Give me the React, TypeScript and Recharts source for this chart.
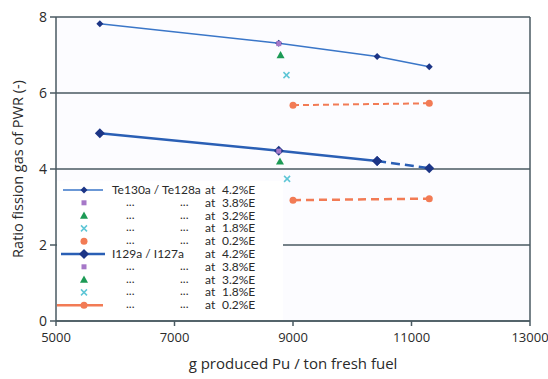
import React from 'react';
import { LineChart, Line, XAxis, YAxis, CartesianGrid, ReferenceLine } from 'recharts';

const FONT = '"Open Sans", "DejaVu Sans", sans-serif';
const LEG_FONT = 'Lato, "Open Sans", sans-serif';
const C = {
  AXIS: '#4a5a62',
  TEXT: '#2a2a2a',
  TE: '#3a76c8',
  I: '#2a5fb5',
  NAVY: '#1c3586',
  PURPLE: '#a678c8',
  GREEN: '#1c9a55',
  CYAN: '#5ec6d6',
  ORANGE: '#f27b55',
};

const X_TICKS = [5000, 7000, 9000, 11000, 13000];
const Y_TICKS = [0, 2, 4, 6, 8];

// Te130a / Te128a
const TE_42 = [{ x: 5740, y: 7.82 }, { x: 8760, y: 7.31 }, { x: 10420, y: 6.96 }, { x: 11300, y: 6.69 }];
const TE_38 = [{ x: 8760, y: 7.3 }];
const TE_32 = [{ x: 8790, y: 7.0 }];
const TE_18 = [{ x: 8890, y: 6.47 }];
const TE_02 = [{ x: 9000, y: 5.68 }, { x: 11300, y: 5.73 }];

// I129a / I127a
const I_42_SOLID = [{ x: 5740, y: 4.94 }, { x: 8760, y: 4.48 }, { x: 10420, y: 4.21 }];
const I_42_DASH = [{ x: 10420, y: 4.21 }, { x: 11300, y: 4.02 }];
const I_38 = [{ x: 8760, y: 4.47 }];
const I_32 = [{ x: 8780, y: 4.2 }];
const I_18 = [{ x: 8900, y: 3.74 }];
const I_02 = [{ x: 9000, y: 3.18 }, { x: 11300, y: 3.22 }];

const LEGEND_ROWS = [
  { icon: 'teLine', name: 'Te130a / Te128a', pct: '4.2%E' },
  { icon: 'square', name: '', pct: '3.8%E' },
  { icon: 'triangle', name: '', pct: '3.2%E' },
  { icon: 'cross', name: '', pct: '1.8%E' },
  { icon: 'circle', name: '', pct: '0.2%E' },
  { icon: 'iLine', name: 'I129a / I127a', pct: '4.2%E' },
  { icon: 'square', name: '', pct: '3.8%E' },
  { icon: 'triangle', name: '', pct: '3.2%E' },
  { icon: 'cross', name: '', pct: '1.8%E' },
  { icon: 'orangeLine', name: '', pct: '0.2%E' },
];

const diamond = (r: number, color: string) => (p: any) => {
  const { cx, cy, index } = p;
  if (cx == null || cy == null) return <g key={index} />;
  return <polygon key={index} points={`${cx},${cy - r} ${cx + r},${cy} ${cx},${cy + r} ${cx - r},${cy}`} fill={color} />;
};
const square = (s: number, color: string) => (p: any) => (
  <rect key={p.index} x={p.cx - s / 2} y={p.cy - s / 2} width={s} height={s} fill={color} />
);
const triangle = (r: number, color: string) => (p: any) => (
  <polygon key={p.index} points={`${p.cx},${p.cy - r} ${p.cx + r},${p.cy + r * 0.8} ${p.cx - r},${p.cy + r * 0.8}`} fill={color} />
);
const cross = (r: number, color: string) => (p: any) => (
  <g key={p.index} stroke={color} strokeWidth={1.5}>
    <line x1={p.cx - r} y1={p.cy - r} x2={p.cx + r} y2={p.cy + r} />
    <line x1={p.cx - r} y1={p.cy + r} x2={p.cx + r} y2={p.cy - r} />
  </g>
);
const circle = (r: number, color: string) => (p: any) => (
  <circle key={p.index} cx={p.cx} cy={p.cy} r={r} fill={color} />
);

const LegendIcon = ({ kind, y }: { kind: string; y: number }) => {
  const p = { cx: 27, cy: y, index: 0 };
  switch (kind) {
    case 'teLine':
      return <g><line x1={6} x2={46} y1={y} y2={y} stroke={C.TE} strokeWidth={1.5} />{diamond(3.5, C.NAVY)(p)}</g>;
    case 'iLine':
      return <g><line x1={4} x2={48} y1={y} y2={y} stroke={C.I} strokeWidth={2.5} />{diamond(5, C.NAVY)(p)}</g>;
    case 'orangeLine':
      return <g><line x1={-2} x2={46} y1={y} y2={y} stroke={C.ORANGE} strokeWidth={2.5} />{circle(3.5, C.ORANGE)(p)}</g>;
    case 'square':
      return square(5, C.PURPLE)(p);
    case 'triangle':
      return triangle(4, C.GREEN)(p);
    case 'cross':
      return cross(3, C.CYAN)(p);
    default:
      return circle(3.5, C.ORANGE)(p);
  }
};

const LegendBox = () => (
  <div style={{ position: 'absolute', left: 57, top: 181, width: 226, height: 139, background: '#fff' }}>
    <svg width={226} height={139} style={{ fontFamily: LEG_FONT, fontSize: 12, fill: C.TEXT }}>
      {LEGEND_ROWS.map((r, i) => {
        const y = 9 + i * 12.8;
        return (
          <g key={i}>
            <LegendIcon kind={r.icon} y={y} />
            {r.name ? (
              <text x={55} y={y + 4}>{r.name}</text>
            ) : (
              <>
                <text x={69} y={y + 3}>...</text>
                <text x={123} y={y + 3}>...</text>
              </>
            )}
            <text x={148} y={y + 4}>at</text>
            <text x={165} y={y + 4}>{r.pct}</text>
          </g>
        );
      })}
    </svg>
  </div>
);

const tick = { fill: C.TEXT, fontSize: 13, fontFamily: FONT };

export default function App() {
  return (
    <div style={{ position: 'absolute', left: 0, top: 0, width: 548, height: 379, background: '#fff', fontFamily: FONT }}>
      <LineChart width={548} height={379} margin={{ top: 17, right: 18, left: 0, bottom: 0 }}>
        <CartesianGrid vertical={false} stroke={C.AXIS} strokeWidth={1.5} fill="#fcfcff" />
        <XAxis
          type="number"
          dataKey="x"
          domain={[5000, 13000]}
          ticks={X_TICKS}
          allowDataOverflow
          height={58}
          tick={tick}
          tickSize={5}
          tickMargin={7}
          stroke={C.AXIS}
          strokeWidth={1.5}
          label={{ value: 'g produced Pu / ton fresh fuel', position: 'insideBottom', offset: 10, style: { fill: C.TEXT, fontSize: 15, fontFamily: FONT } }}
        />
        <YAxis
          type="number"
          dataKey="y"
          domain={[0, 8]}
          ticks={Y_TICKS}
          width={56}
          tick={{ ...tick, fontSize: 14 }}
          tickSize={6}
          tickMargin={3}
          stroke={C.AXIS}
          strokeWidth={1.5}
          label={{ value: 'Ratio fission gas of PWR (-)', angle: -90, position: 'insideLeft', offset: 18, style: { textAnchor: 'middle', fill: C.TEXT, fontSize: 14.5, fontFamily: FONT } }}
        />
        <ReferenceLine x={13000} stroke={C.AXIS} strokeWidth={1.5} />

        <Line data={TE_42} dataKey="y" stroke={C.TE} strokeWidth={1.5} dot={diamond(3.5, C.NAVY)} isAnimationActive={false} />
        <Line data={TE_38} dataKey="y" stroke="none" dot={square(5, C.PURPLE)} isAnimationActive={false} />
        <Line data={TE_32} dataKey="y" stroke="none" dot={triangle(4, C.GREEN)} isAnimationActive={false} />
        <Line data={TE_18} dataKey="y" stroke="none" dot={cross(3, C.CYAN)} isAnimationActive={false} />
        <Line data={TE_02} dataKey="y" stroke={C.ORANGE} strokeWidth={2} strokeDasharray="6 4" dot={circle(3.5, C.ORANGE)} isAnimationActive={false} />

        <Line data={I_42_SOLID} dataKey="y" stroke={C.I} strokeWidth={2.5} dot={diamond(5, C.NAVY)} isAnimationActive={false} />
        <Line data={I_42_DASH} dataKey="y" stroke={C.I} strokeWidth={2.5} strokeDasharray="9 5" dot={diamond(5, C.NAVY)} isAnimationActive={false} />
        <Line data={I_38} dataKey="y" stroke="none" dot={square(5, C.PURPLE)} isAnimationActive={false} />
        <Line data={I_32} dataKey="y" stroke="none" dot={triangle(4, C.GREEN)} isAnimationActive={false} />
        <Line data={I_18} dataKey="y" stroke="none" dot={cross(3, C.CYAN)} isAnimationActive={false} />
        <Line data={I_02} dataKey="y" stroke={C.ORANGE} strokeWidth={2.5} strokeDasharray="8 5" dot={circle(3.5, C.ORANGE)} isAnimationActive={false} />
      </LineChart>
      <LegendBox />
    </div>
  );
}
